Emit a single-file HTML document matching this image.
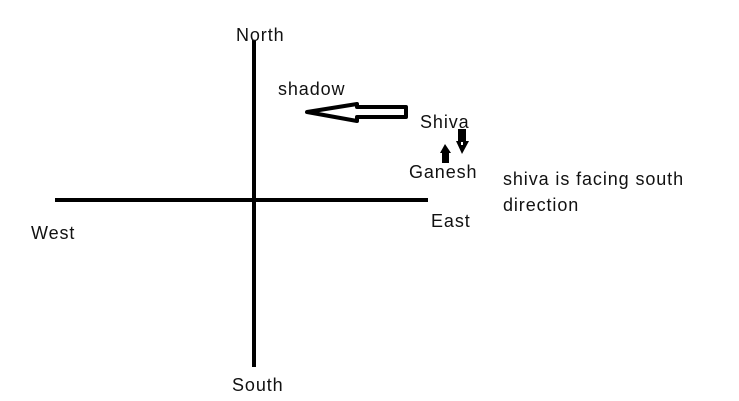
<!DOCTYPE html>
<html><head><style>
body{margin:0;background:#fff;width:739px;height:401px;overflow:hidden;position:relative;font-family:"Liberation Sans",sans-serif;}
.t{position:absolute;font-size:18px;letter-spacing:0.9px;color:#111;white-space:nowrap;}
</style></head><body>
<svg width="739" height="401" style="position:absolute;left:0;top:0">
<line x1="254" y1="40" x2="254" y2="367" stroke="#000" stroke-width="4"/>
<line x1="55" y1="200" x2="428" y2="200" stroke="#000" stroke-width="4"/>
<polygon points="307,112 357,104 357,107 406,107 406,117 357,117 357,121" fill="none" stroke="#000" stroke-width="4" stroke-linejoin="round"/>
<polygon points="440,153 445,144 451,153 449,153 449,163 442,163 442,153" fill="#000"/>
<polygon points="458,129 466,129 466,141 469,141 462,154 456,141 458,141" fill="#000"/>
<rect x="461" y="142" width="2" height="3" fill="#fff"/>
</svg>
<div class="t" style="left:236px;top:25px">North</div>
<div class="t" style="left:232px;top:375px">South</div>
<div class="t" style="left:31px;top:223px">West</div>
<div class="t" style="left:431px;top:211px">East</div>
<div class="t" style="left:278px;top:79px">shadow</div>
<div class="t" style="left:420px;top:112px">Shiva</div>
<div class="t" style="left:409px;top:162px">Ganesh</div>
<div class="t" style="left:503px;top:166px;line-height:26px">shiva is facing south<br>direction</div>
</body></html>
